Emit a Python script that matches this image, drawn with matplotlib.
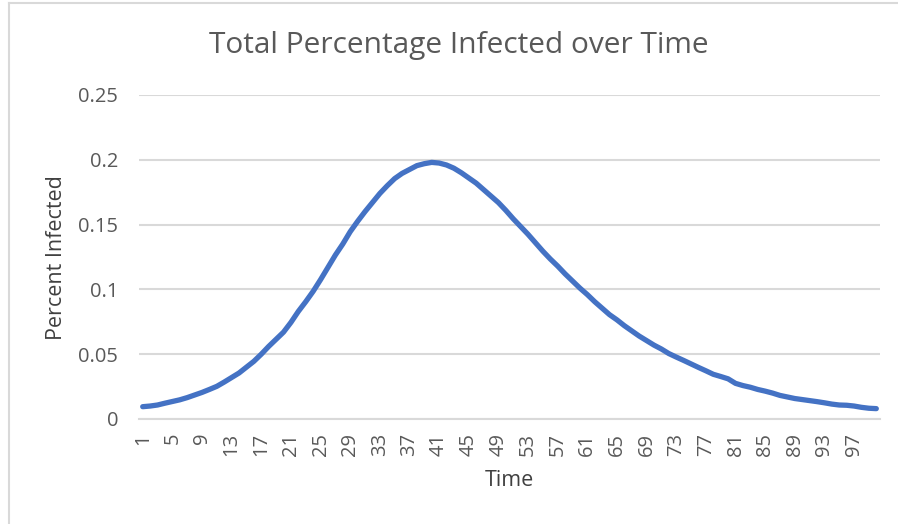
import numpy as np
import matplotlib
matplotlib.use("Agg")
import matplotlib.pyplot as plt
from matplotlib.lines import Line2D

# time steps 1..100 and fraction infected
time_steps = list(range(1, 101))
infected = [
    0.0095, 0.0100, 0.0108, 0.0122, 0.0135, 0.0148, 0.0165, 0.0185, 0.0205, 0.0228,
    0.0252, 0.0285, 0.0320, 0.0355, 0.0400, 0.0445, 0.0500, 0.0560, 0.0615, 0.0670,
    0.0745, 0.0830, 0.0905, 0.0985, 0.1075, 0.1170, 0.1265, 0.1350, 0.1445, 0.1525,
    0.1600, 0.1670, 0.1740, 0.1800, 0.1855, 0.1895, 0.1925, 0.1955, 0.1970, 0.1980,
    0.1975, 0.1960, 0.1935, 0.1900, 0.1860, 0.1820, 0.1770, 0.1720, 0.1670, 0.1610,
    0.1545, 0.1485, 0.1425, 0.1360, 0.1295, 0.1235, 0.1180, 0.1120, 0.1065, 0.1010,
    0.0960, 0.0905, 0.0855, 0.0805, 0.0765, 0.0720, 0.0680, 0.0640, 0.0605, 0.0570,
    0.0540, 0.0505, 0.0478, 0.0452, 0.0425, 0.0398, 0.0372, 0.0345, 0.0328, 0.0310,
    0.0275, 0.0258, 0.0245, 0.0228, 0.0215, 0.0200, 0.0182, 0.0170, 0.0158, 0.0150,
    0.0142, 0.0134, 0.0125, 0.0115, 0.0108, 0.0106, 0.0100, 0.0090, 0.0083, 0.0080,
]
y_ticks = [0, 0.05, 0.1, 0.15, 0.2, 0.25]
y_tick_labels = ["0", "0.05", "0.1", "0.15", "0.2", "0.25"]

plt.rcParams['font.family'] = ['Open Sans', 'DejaVu Sans']
grey = '#595959'
grid_col = '#d9d9d9'

W, H = 898, 524
fig = plt.figure(figsize=(W / 100, H / 100), dpi=100)
ax = fig.add_axes([139 / W, 1 - 419 / H, (880 - 139) / W, (419 - 95) / H])

ax.plot(time_steps, infected, color='#4472C4', linewidth=3.8, solid_capstyle='round')

ax.set_xlim(0.5, 100.5)
ax.set_ylim(0, 0.25)
ax.set_yticks(y_ticks)
ax.set_yticklabels(y_tick_labels)
ax.set_xticks(time_steps[::4])
ax.set_xticklabels([str(t) for t in time_steps[::4]], rotation=90)
ax.tick_params(axis='both', length=0, colors=grey, labelsize=14.5)
ax.tick_params(axis='y', pad=15)
ax.tick_params(axis='x', pad=10)

ax.grid(axis='y', color=grid_col, linewidth=1.5)
ax.set_axisbelow(True)
for s in ['top', 'right', 'left']:
    ax.spines[s].set_visible(False)
ax.spines['bottom'].set_color(grid_col)
ax.spines['bottom'].set_linewidth(1.5)

fig.text(459 / W, 1 - 45 / H, "Total Percentage Infected over Time",
         ha='center', va='center', fontsize=21.5, color=grey)
fig.text(57 / W, 1 - 258 / H, "Percent Infected", ha='center', va='center',
         rotation=90, fontsize=15.5, color='#404040')
fig.text(509 / W, 1 - 481 / H, "Time", ha='center', va='center',
         fontsize=15.5, color='#404040')

# chart frame (top and left edges visible)
fig.add_artist(Line2D([9 / W, 1], [1 - 3 / H, 1 - 3 / H], color=grid_col, linewidth=1.5))
fig.add_artist(Line2D([9 / W, 9 / W], [0, 1 - 3 / H], color=grid_col, linewidth=1.5))

fig.savefig("out.png", dpi=100)
